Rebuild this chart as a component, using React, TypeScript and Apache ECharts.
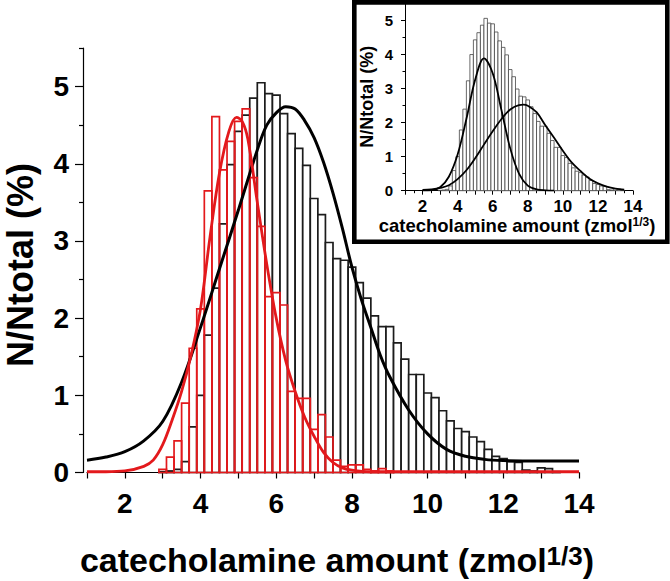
import React, { useEffect, useRef } from "react";
import * as echarts from "echarts";

// ---------- data ----------
const binWidth = 0.2;

const blackCenters = [
  3.0, 3.2, 3.4, 3.6, 3.8, 4.0, 4.2, 4.4, 4.6, 4.8, 5.0, 5.2, 5.4, 5.6, 5.8, 6.0, 6.2, 6.4, 6.6, 6.8,
  7.0, 7.2, 7.4, 7.6, 7.8, 8.0, 8.2, 8.4, 8.6, 8.8, 9.0, 9.2, 9.4, 9.6, 9.8, 10.0, 10.2, 10.4, 10.6, 10.8,
  11.0, 11.2, 11.4, 11.6, 11.8, 12.0, 12.2, 12.4, 12.6, 12.8, 13.0, 13.2, 13.4,
];
const blackValues = [
  0.01, 0.02, 0.04, 0.14, 0.59, 1.0, 1.78, 2.39, 3.22, 3.99, 4.42, 4.63, 4.85, 5.05, 4.91, 4.89, 4.65, 4.39, 4.2, 3.98,
  3.55, 3.34, 2.98, 2.77, 2.75, 2.66, 2.46, 2.26, 2.03, 1.89, 1.89, 1.68, 1.47, 1.27, 1.27, 1.03, 0.97, 0.8, 0.67, 0.57,
  0.53, 0.46, 0.4, 0.3, 0.21, 0.18, 0.14, 0.13, 0.03, 0.02, 0.06, 0.05, 0.01,
];

const redCenters = [
  3.0, 3.2, 3.4, 3.6, 3.8, 4.0, 4.2, 4.4, 4.6, 4.8, 5.0, 5.2, 5.4, 5.6, 5.8, 6.0, 6.2, 6.4, 6.6, 6.8,
  7.0, 7.2, 7.4, 7.6, 7.8, 8.0, 8.2, 8.4, 8.6, 8.8, 9.0,
];
const redValues = [
  0.04, 0.2, 0.41, 0.9, 1.61, 2.12, 3.65, 4.61, 3.92, 4.29, 4.55, 4.71, 3.82, 3.19, 2.28, 2.33, 2.17, 1.05, 0.96, 0.96,
  0.56, 0.75, 0.46, 0.16, 0.08, 0.1, 0.1, 0.04, 0.02, 0.05, 0.02,
];

const blackFitX = [1.0, 1.5, 2.0, 2.5, 3.0, 3.5, 4.0, 4.5, 5.0, 5.5, 5.75, 6.0, 6.25, 6.5, 6.75, 7.0, 7.25, 7.5, 7.75, 8.0, 8.25, 8.5, 8.75, 9.0, 9.5, 10.0, 10.5, 11.0, 11.5, 12.0, 13.0, 14.0];
const blackFitY = [0.16, 0.2, 0.27, 0.41, 0.66, 1.17, 1.88, 2.64, 3.4, 4.18, 4.5, 4.66, 4.74, 4.71, 4.56, 4.34, 4.02, 3.62, 3.16, 2.66, 2.24, 1.88, 1.52, 1.24, 0.81, 0.5, 0.3, 0.21, 0.17, 0.155, 0.15, 0.15];

const redFitX = [1.0, 1.5, 2.0, 2.5, 2.75, 3.0, 3.25, 3.5, 3.75, 4.0, 4.25, 4.5, 4.75, 4.95, 5.1, 5.25, 5.5, 5.75, 6.0, 6.25, 6.5, 6.75, 7.0, 7.25, 7.5, 7.75, 8.0, 8.5, 9.0, 10.0, 14.0];
const redFitY = [0.01, 0.01, 0.02, 0.08, 0.16, 0.36, 0.68, 1.05, 1.52, 2.12, 3.05, 3.88, 4.42, 4.6, 4.55, 4.32, 3.5, 2.7, 2.0, 1.45, 1.05, 0.72, 0.47, 0.26, 0.13, 0.06, 0.03, 0.01, 0.01, 0.01, 0.01];

const insetNarrowX = [2.0, 2.5, 3.0, 3.5, 4.0, 4.5, 5.0, 5.5, 6.0, 6.5, 7.0, 7.5, 8.0, 8.5, 9.0, 9.5];
const insetNarrowY = [0.0, 0.01, 0.1, 0.41, 1.06, 2.1, 3.25, 3.88, 3.44, 2.36, 1.24, 0.5, 0.15, 0.04, 0.01, 0.0];

const insetWideX = [2.0, 2.5, 3.0, 3.5, 4.0, 4.5, 5.0, 5.5, 6.0, 6.5, 7.0, 7.5, 7.75, 8.0, 8.5, 9.0, 9.5, 10.0, 10.5, 11.0, 11.5, 12.0, 12.5, 13.0, 13.5];
const insetWideY = [0.02, 0.04, 0.08, 0.16, 0.34, 0.6, 0.95, 1.35, 1.74, 2.1, 2.38, 2.51, 2.52, 2.49, 2.3, 1.92, 1.55, 1.17, 0.83, 0.58, 0.36, 0.22, 0.12, 0.06, 0.03];

const xAllTicks = [1, 2, 3, 4, 5, 6, 7, 8, 9, 10, 11, 12, 13, 14];
const xLabelTicks = [2, 4, 6, 8, 10, 12, 14];
const xHalfTicks = [1.5, 2.5, 3.5, 4.5, 5.5, 6.5, 7.5, 8.5, 9.5, 10.5, 11.5, 12.5, 13.5];
const yMajorTicks = [0, 1, 2, 3, 4, 5];
const yMinorTicks = [0.5, 1.5, 2.5, 3.5, 4.5, 5.5];

const xTitle = "catecholamine amount (zmol";
const xTitleSup = "1/3";
const yTitle = "N/Ntotal (%)";

// ---------- helpers ----------
const FONT = "'Liberation Sans', Arial, Helvetica, sans-serif";
const zip = (a: number[], b: number[]) => a.map((v, i) => [v, b[i]]);

function barRenderer(fill: string, stroke: string, lw: number) {
  return (params: any, api: any) => {
    const c = api.value(0);
    const v = api.value(1);
    const p0 = api.coord([c - binWidth / 2, v]);
    const p1 = api.coord([c + binWidth / 2, 0]);
    return {
      type: "rect",
      shape: { x: p0[0], y: p0[1], width: p1[0] - p0[0], height: p1[1] - p0[1] },
      style: { fill, stroke, lineWidth: lw },
    };
  };
}

export default function App() {
  const ref = useRef<HTMLDivElement>(null);

  useEffect(() => {
    if (!ref.current) return;
    const chart = echarts.init(ref.current, null, { renderer: "svg" });

    const axisBase = (grid: number, lw: number) => ({
      type: "value",
      gridIndex: grid,
      splitLine: { show: false },
      axisLine: { show: true, lineStyle: { color: "#000", width: lw } },
    });

    const option: any = {
      animation: false,
      backgroundColor: "#fff",
      grid: [
        { left: 87, top: 48, width: 492, height: 424.5 },
        { left: 405, top: 3, width: 228, height: 187.7 },
      ],
      xAxis: [
        {
          ...axisBase(0, 1.2),
          position: "bottom",
          min: 1,
          max: 14,
          axisTick: { show: true, customValues: xAllTicks, length: 6, lineStyle: { color: "#000", width: 1.2 } },
          axisLabel: {
            customValues: xLabelTicks,
            margin: 17,
            fontSize: 28,
            fontWeight: "bold",
            fontFamily: FONT,
            color: "#000",
          },
        },
        {
          ...axisBase(1, 1),
          position: "bottom",
          min: 1,
          max: 14,
          axisTick: { show: true, customValues: xAllTicks, length: 4, lineStyle: { color: "#000", width: 1 } },
          axisLabel: {
            customValues: xLabelTicks,
            margin: 7,
            fontSize: 17,
            fontWeight: "bold",
            fontFamily: FONT,
            color: "#000",
          },
        },
        {
          ...axisBase(1, 1),
          position: "bottom",
          min: 1,
          max: 14,
          axisLine: { show: false },
          axisTick: { show: true, customValues: xHalfTicks, length: 2.5, lineStyle: { color: "#000", width: 1 } },
          axisLabel: { show: false },
        },
      ],
      yAxis: [
        {
          ...axisBase(0, 1.2),
          position: "left",
          min: 0,
          max: 5.5,
          offset: 4,
          axisTick: { show: true, customValues: yMajorTicks, length: 8, lineStyle: { color: "#000", width: 1.2 } },
          axisLabel: {
            customValues: yMajorTicks,
            margin: 14,
            fontSize: 28,
            fontWeight: "bold",
            fontFamily: FONT,
            color: "#000",
          },
        },
        {
          ...axisBase(0, 1.2),
          position: "left",
          min: 0,
          max: 5.5,
          offset: 4,
          axisLine: { show: false },
          axisTick: { show: true, customValues: yMinorTicks, length: 4, lineStyle: { color: "#000", width: 1.2 } },
          axisLabel: { show: false },
        },
        {
          ...axisBase(1, 1),
          position: "left",
          min: 0,
          max: 5.5,
          name: yTitle,
          nameLocation: "middle",
          nameRotate: 90,
          nameGap: 29,
          nameTextStyle: { fontSize: 18, fontWeight: "bold", fontFamily: FONT, color: "#000" },
          axisTick: { show: true, customValues: yMajorTicks, length: 4, lineStyle: { color: "#000", width: 1 } },
          axisLabel: {
            customValues: yMajorTicks,
            margin: 12,
            fontSize: 15,
            fontWeight: "bold",
            fontFamily: FONT,
            color: "#000",
          },
        },
        {
          ...axisBase(1, 1),
          position: "left",
          min: 0,
          max: 5.5,
          axisLine: { show: false },
          axisTick: { show: true, customValues: yMinorTicks, length: 2.5, lineStyle: { color: "#000", width: 1 } },
          axisLabel: { show: false },
        },
      ],
      series: [
        {
          type: "custom",
          name: "all",
          xAxisIndex: 0,
          yAxisIndex: 0,
          data: zip(blackCenters, blackValues),
          encode: { x: 0, y: 1 },
          renderItem: barRenderer("#fff", "#1c1c1c", 1.7),
          z: 2,
        },
        {
          type: "custom",
          name: "red",
          xAxisIndex: 0,
          yAxisIndex: 0,
          data: zip(redCenters, redValues),
          encode: { x: 0, y: 1 },
          renderItem: barRenderer("none", "#e3191c", 1.7),
          z: 3,
        },
        {
          type: "line",
          xAxisIndex: 0,
          yAxisIndex: 0,
          data: zip(blackFitX, blackFitY),
          smooth: 0.35,
          showSymbol: false,
          symbol: "none",
          lineStyle: { color: "#000", width: 3 },
          z: 4,
        },
        {
          type: "line",
          xAxisIndex: 0,
          yAxisIndex: 0,
          data: zip(redFitX, redFitY),
          smooth: 0.35,
          showSymbol: false,
          symbol: "none",
          lineStyle: { color: "#e3191c", width: 2.8 },
          z: 5,
        },
        {
          type: "custom",
          name: "inset",
          xAxisIndex: 1,
          yAxisIndex: 2,
          data: zip(blackCenters, blackValues),
          encode: { x: 0, y: 1 },
          renderItem: barRenderer("#fff", "#444", 0.8),
          z: 2,
        },
        {
          type: "line",
          xAxisIndex: 1,
          yAxisIndex: 2,
          data: zip(insetNarrowX, insetNarrowY),
          smooth: 0.35,
          showSymbol: false,
          symbol: "none",
          lineStyle: { color: "#000", width: 1.8 },
          z: 4,
        },
        {
          type: "line",
          xAxisIndex: 1,
          yAxisIndex: 2,
          data: zip(insetWideX, insetWideY),
          smooth: 0.35,
          showSymbol: false,
          symbol: "none",
          lineStyle: { color: "#000", width: 1.8 },
          z: 4,
        },
      ],
      graphic: [
        {
          type: "rect",
          shape: { x: 354.3, y: 2.4, width: 313, height: 239.3 },
          style: { fill: "none", stroke: "#000", lineWidth: 4.6 },
          z: 10,
        },
        {
          type: "text",
          x: 337,
          y: 560,
          style: {
            text: `{a|${xTitle}}{s|${xTitleSup}}{a|)}`,
            align: "center",
            verticalAlign: "middle",
            fill: "#000",
            rich: {
              a: { fontSize: 34, lineHeight: 34, fontWeight: "bold", fontFamily: FONT, verticalAlign: "bottom", fill: "#000" },
              s: { fontSize: 26, lineHeight: 26, fontWeight: "bold", fontFamily: FONT, verticalAlign: "top", padding: [0, 0, 24, 0], fill: "#000" },
            },
          },
          z: 10,
        },
        {
          type: "text",
          x: 20,
          y: 265,
          rotation: Math.PI / 2,
          style: {
            text: yTitle,
            fontSize: 36,
            lineHeight: 36,
            fontWeight: "bold",
            fontFamily: FONT,
            align: "center",
            verticalAlign: "middle",
            fill: "#000",
          },
          z: 10,
        },
        {
          type: "text",
          x: 517,
          y: 225,
          style: {
            text: `{a|${xTitle}}{s|${xTitleSup}}{a|)}`,
            align: "center",
            verticalAlign: "middle",
            fill: "#000",
            rich: {
              a: { fontSize: 18.5, lineHeight: 19, fontWeight: "bold", fontFamily: FONT, verticalAlign: "bottom", fill: "#000" },
              s: { fontSize: 12, lineHeight: 12, fontWeight: "bold", fontFamily: FONT, verticalAlign: "top", padding: [0, 0, 12, 0], fill: "#000" },
            },
          },
          z: 10,
        },
      ],
    };

    chart.setOption(option);
    return () => chart.dispose();
  }, []);

  return (
    <div
      ref={ref}
      style={{ position: "fixed", left: 0, top: 0, width: 670, height: 581, background: "#fff" }}
    />
  );
}
